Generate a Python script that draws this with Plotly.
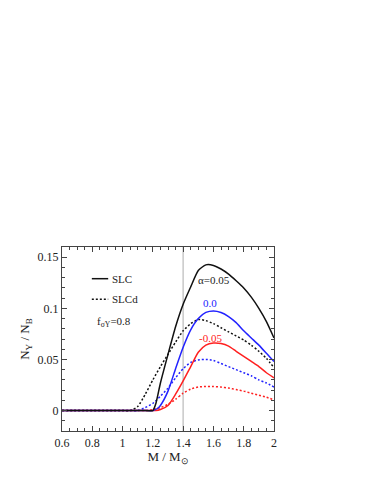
import plotly.graph_objects as go

# ---- data ----
x_slc_p = [0.6, 1.15, 1.2, 1.22, 1.25, 1.3, 1.35, 1.4, 1.45, 1.5, 1.55, 1.6, 1.65, 1.7, 1.75, 1.8, 1.85, 1.9, 1.95, 2.0]
y_slc_p = [0, 0, 0, 0.007, 0.027, 0.055, 0.082, 0.104, 0.121, 0.137, 0.1425, 0.142, 0.1385, 0.1335, 0.127, 0.120, 0.111, 0.100, 0.087, 0.071]

x_slcd_p = [0.6, 1.0, 1.05, 1.1, 1.15, 1.2, 1.25, 1.3, 1.35, 1.4, 1.45, 1.5, 1.55, 1.6, 1.65, 1.7, 1.75, 1.8, 1.85, 1.9, 1.95, 2.0]
y_slcd_p = [0, 0, 0, 0.004, 0.016, 0.030, 0.043, 0.055, 0.067, 0.078, 0.085, 0.089, 0.088, 0.085, 0.081, 0.077, 0.073, 0.069, 0.064, 0.058, 0.051, 0.042]

x_slc_0 = [0.6, 1.15, 1.2, 1.23, 1.25, 1.3, 1.35, 1.4, 1.45, 1.5, 1.55, 1.6, 1.65, 1.7, 1.75, 1.8, 1.85, 1.9, 1.95, 2.0]
y_slc_0 = [0, 0, 0, 0.002, 0.005, 0.019, 0.041, 0.062, 0.079, 0.090, 0.096, 0.0975, 0.096, 0.092, 0.086, 0.078, 0.071, 0.064, 0.056, 0.048]

x_slcd_0 = [0.6, 1.05, 1.1, 1.15, 1.2, 1.25, 1.3, 1.35, 1.4, 1.45, 1.5, 1.55, 1.6, 1.65, 1.7, 1.75, 1.8, 1.85, 1.9, 1.95, 2.0]
y_slcd_0 = [0, 0, 0, 0.003, 0.007, 0.014, 0.022, 0.032, 0.041, 0.047, 0.0495, 0.050, 0.049, 0.046, 0.043, 0.040, 0.037, 0.034, 0.030, 0.027, 0.023]

x_slc_m = [0.6, 1.17, 1.22, 1.25, 1.3, 1.35, 1.4, 1.45, 1.5, 1.55, 1.6, 1.65, 1.7, 1.75, 1.8, 1.85, 1.9, 1.95, 2.0]
y_slc_m = [0, 0, 0, 0.001, 0.005, 0.016, 0.029, 0.043, 0.057, 0.064, 0.066, 0.0655, 0.063, 0.058, 0.053, 0.048, 0.043, 0.037, 0.032]

x_slcd_m = [0.6, 1.1, 1.15, 1.2, 1.25, 1.3, 1.35, 1.4, 1.45, 1.5, 1.55, 1.6, 1.65, 1.7, 1.75, 1.8, 1.85, 1.9, 1.95, 2.0]
y_slcd_m = [0, 0, 0, 0.001, 0.003, 0.006, 0.011, 0.017, 0.021, 0.023, 0.0235, 0.0235, 0.023, 0.022, 0.0205, 0.019, 0.017, 0.015, 0.013, 0.0105]

x_ticks = [0.6, 0.8, 1.0, 1.2, 1.4, 1.6, 1.8, 2.0]
x_tick_labels = ["0.6", "0.8", "1", "1.2", "1.4", "1.6", "1.8", "2"]
y_ticks = [0, 0.05, 0.1, 0.15]
y_tick_labels = ["0", "0.05", "0.1", "0.15"]

FONT = "Liberation Serif, Times New Roman, serif"
BLACK = "#111111"
BLUE = "#2222ff"
RED = "#ff2020"
DOT = "2px,2px"

fig = go.Figure()

def add(x, y, color, dash):
    fig.add_trace(go.Scatter(x=x, y=y, mode="lines",
                             line=dict(color=color, width=1.5, dash=dash,
                                       shape="spline", smoothing=0.6),
                             showlegend=False, hoverinfo="skip"))

# reference line at 1.4
fig.add_shape(type="line", x0=1.4, x1=1.4, y0=-0.02, y1=0.16, xref="x", yref="y",
              line=dict(color="#c8c8c8", width=1.5), layer="below")

add(x_slcd_m, y_slcd_m, RED, DOT)
add(x_slcd_0, y_slcd_0, BLUE, DOT)
add(x_slcd_p, y_slcd_p, BLACK, DOT)
add(x_slc_m, y_slc_m, RED, "solid")
add(x_slc_0, y_slc_0, BLUE, "solid")
add(x_slc_p, y_slc_p, BLACK, "solid")

# legend samples
fig.add_shape(type="line", x0=0.797, x1=0.905, y0=0.129, y1=0.129,
              line=dict(color=BLACK, width=1.5))
fig.add_shape(type="line", x0=0.797, x1=0.905, y0=0.109, y1=0.109,
              line=dict(color=BLACK, width=1.5, dash=DOT))

def txt(x, y, s, color="#222222", size=11, anchor="left"):
    fig.add_annotation(x=x, y=y, text=s, showarrow=False, xanchor=anchor, yanchor="middle",
                       font=dict(family=FONT, size=size, color=color))

txt(0.915, 0.129, "SLC")
txt(0.915, 0.109, "SLCd")
txt(0.945, 0.087, "f<sub>σY</sub>=0.8", anchor="center")
txt(1.605, 0.128, "α=0.05", anchor="center")
txt(1.58, 0.1055, "0.0", color=BLUE, anchor="center")
txt(1.58, 0.071, "-0.05", color=RED, anchor="center")

axis_common = dict(showline=True, linecolor="#444444", linewidth=1.2, mirror="allticks",
                   ticks="inside", ticklen=5, tickwidth=1, tickcolor="#444444",
                   showgrid=False, zeroline=False,
                   tickfont=dict(family=FONT, size=12, color="#222222"))

fig.update_xaxes(range=[0.6, 2.0], tickvals=x_ticks, ticktext=x_tick_labels,
                 minor=dict(dtick=0.05, ticks="inside", ticklen=3, tickcolor="#444444", showgrid=False),
                 title=dict(text="M / M<sub>⊙</sub>", font=dict(family=FONT, size=13, color="#222222"),
                            standoff=0),
                 **axis_common)
fig.update_yaxes(range=[-0.02, 0.16], tickvals=y_ticks, ticktext=y_tick_labels,
                 minor=dict(dtick=0.01, tick0=0, ticks="inside", ticklen=3, tickcolor="#444444", showgrid=False),
                 title=dict(text="N<sub>Y</sub> / N<sub>B</sub>", font=dict(family=FONT, size=13, color="#222222"),
                            standoff=4),
                 **axis_common)

fig.update_layout(width=374, height=486, plot_bgcolor="white", paper_bgcolor="white",
                  margin=dict(l=54, r=108, t=239, b=63), showlegend=False)

fig.write_html("out.html")
